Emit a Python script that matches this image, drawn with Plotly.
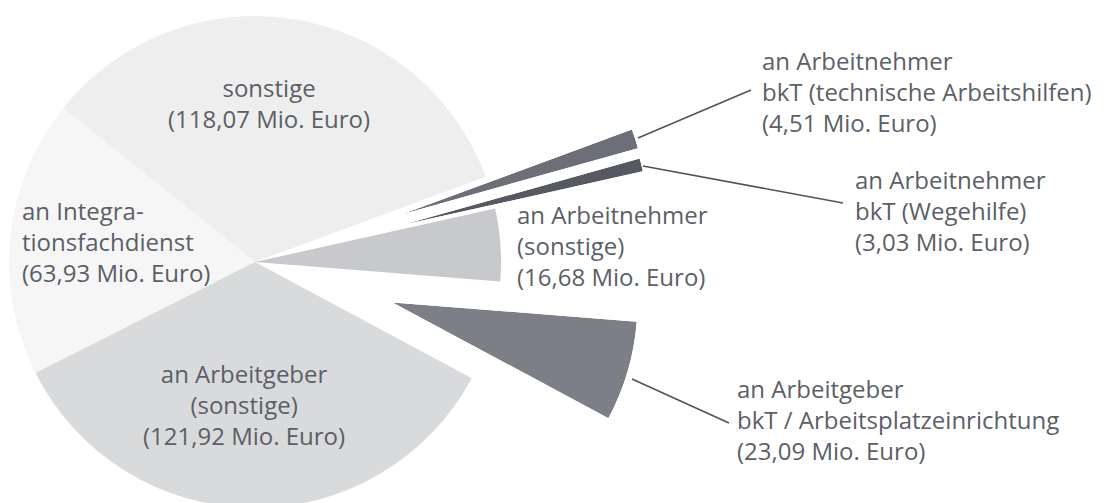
import math
import plotly.graph_objects as go

# ---------------- data ----------------
categories = [
    "sonstige",
    "an Integrationsfachdienst",
    "an Arbeitgeber (sonstige)",
    "an Arbeitgeber bkT / Arbeitsplatzeinrichtung",
    "an Arbeitnehmer (sonstige)",
    "an Arbeitnehmer bkT (Wegehilfe)",
    "an Arbeitnehmer bkT (technische Arbeitshilfen)",
]
values = [118.07, 63.93, 121.92, 23.09, 16.68, 3.03, 4.51]
label_lines = [
    ["sonstige", "(118,07 Mio. Euro)"],
    ["an Integra-", "tionsfachdienst", "(63,93 Mio. Euro)"],
    ["an Arbeitgeber", "(sonstige)", "(121,92 Mio. Euro)"],
    ["an Arbeitgeber", "bkT / Arbeitsplatzeinrichtung", "(23,09 Mio. Euro)"],
    ["an Arbeitnehmer", "(sonstige)", "(16,68 Mio. Euro)"],
    ["an Arbeitnehmer", "bkT (Wegehilfe)", "(3,03 Mio. Euro)"],
    ["an Arbeitnehmer", "bkT (technische Arbeitshilfen)", "(4,51 Mio. Euro)"],
]

# ---------------- style / layout ----------------
W, H = 1107, 503
CX, CY, R = 247, 254, 246          # pie centre and radius in px (figure coords)
RP = 245                           # radius of the pulled-out slices
ROT = -51.3                        # plotly pie rotation (deg)
colors = ["#eeeeee", "#f6f6f6", "#d9dadc", "#7c7f86", "#c8c9cc", "#56595f", "#6c6f77"]
pulls = [0, 0, 0, 0.585, 0, 0.626, 0.631]
TEXT_COLOR = "#5b5f67"
FONT = "Open Sans"
FSIZE = 24

# label block anchor positions (px, figure coords): x, middle y, alignment
label_pos = [
    (261, 95, "center"),
    (12, 233, "left"),
    (236, 396, "center"),
    (727, 411, "left"),
    (507, 237, "left"),
    (845, 202, "left"),
    (752, 83, "left"),
]
# leader lines (px): start near slice, end at label
leaders = [
    ((630, 130), (743, 82)),
    ((635, 158), (835, 195)),
    ((624, 371), (721, 415)),
]


def px2paper(x, y):
    return x / W, 1 - y / H


total = sum(values)
deg = [v / total * 360 for v in values]

# slice angles (math convention, ccw from east) consistent with plotly's pie
boundary = 90 - ROT
angles = []
acc = boundary
for i, d in enumerate(deg):
    if i == 0:
        angles.append((boundary - d, boundary))
    else:
        angles.append((acc, acc + d))
        acc += d


def norm(a):
    return (a + 180) % 360 - 180


def sector_bbox(a0, a1):
    pts = [(0.0, 0.0), (math.cos(math.radians(a0)), math.sin(math.radians(a0))),
           (math.cos(math.radians(a1)), math.sin(math.radians(a1)))]
    for k in range(-4, 9):
        c = 90 * k
        if a0 < c < a1:
            pts.append((math.cos(math.radians(c)), math.sin(math.radians(c))))
    xs = [p[0] for p in pts]
    ys = [p[1] for p in pts]
    return min(xs), min(ys), max(xs), max(ys)


fig = go.Figure()

# main pie (pulled slices left transparent here)
main_colors = [c if p == 0 else "rgba(0,0,0,0)" for c, p in zip(colors, pulls)]
x0p, y0p = px2paper(CX - R, CY + R)
x1p, y1p = px2paper(CX + R, CY - R)
fig.add_trace(go.Pie(
    labels=categories, values=values, sort=False, direction="counterclockwise",
    rotation=ROT, marker=dict(colors=main_colors, line=dict(width=0)),
    textinfo="none", hoverinfo="label+value", showlegend=False,
    domain=dict(x=[max(0, x0p), min(1, x1p)], y=[max(0, y0p), min(1, y1p)]),
))

# pulled-out slices, each drawn in its own polar sector
layout_polars = {}
n = 2
for i, p in enumerate(pulls):
    if p == 0:
        continue
    a0, a1 = angles[i]
    a0n = norm(a0)
    a1n = a0n + (a1 - a0)
    mid = (a0n + a1n) / 2
    tx = CX + p * RP * math.cos(math.radians(mid))
    ty = CY - p * RP * math.sin(math.radians(mid))
    bx0, by0, bx1, by1 = sector_bbox(a0n, a1n)
    left, right = tx + RP * bx0, tx + RP * bx1
    top, bottom = ty - RP * by1, ty - RP * by0
    dx0, dy0 = px2paper(left, bottom)
    dx1, dy1 = px2paper(right, top)
    name = f"polar{n}"
    layout_polars[name] = dict(
        domain=dict(x=[dx0, dx1], y=[dy0, dy1]),
        sector=[a0n, a1n], hole=0, bargap=0, bgcolor="rgba(0,0,0,0)",
        radialaxis=dict(visible=False, range=[0, 1]),
        angularaxis=dict(visible=False, rotation=0, direction="counterclockwise"),
    )
    fig.add_trace(go.Barpolar(
        r=[1], theta=[mid], width=[a1 - a0], base=0, subplot=name,
        marker=dict(color=colors[i], line=dict(width=0)),
        name=categories[i], hoverinfo="name", showlegend=False,
    ))
    n += 1

annotations = []
for lines, (x, y, al) in zip(label_lines, label_pos):
    xp, yp = px2paper(x, y)
    annotations.append(dict(
        x=xp, y=yp, xref="paper", yref="paper", text="<br>".join(lines),
        showarrow=False, xanchor=al, yanchor="middle", align=al,
        font=dict(family=FONT, size=FSIZE, color=TEXT_COLOR),
    ))

shapes = []
for (sx, sy), (ex, ey) in leaders:
    a, b = px2paper(sx, sy)
    c, d = px2paper(ex, ey)
    shapes.append(dict(type="line", xref="paper", yref="paper", x0=a, y0=b, x1=c, y1=d,
                       line=dict(color="#50535a", width=1.6)))

fig.update_layout(
    width=W, height=H, margin=dict(l=0, r=0, t=0, b=0),
    paper_bgcolor="white", plot_bgcolor="white", showlegend=False,
    annotations=annotations, shapes=shapes,
    font=dict(family=FONT, color=TEXT_COLOR),
    **layout_polars,
)

fig.write_html("out.html")
